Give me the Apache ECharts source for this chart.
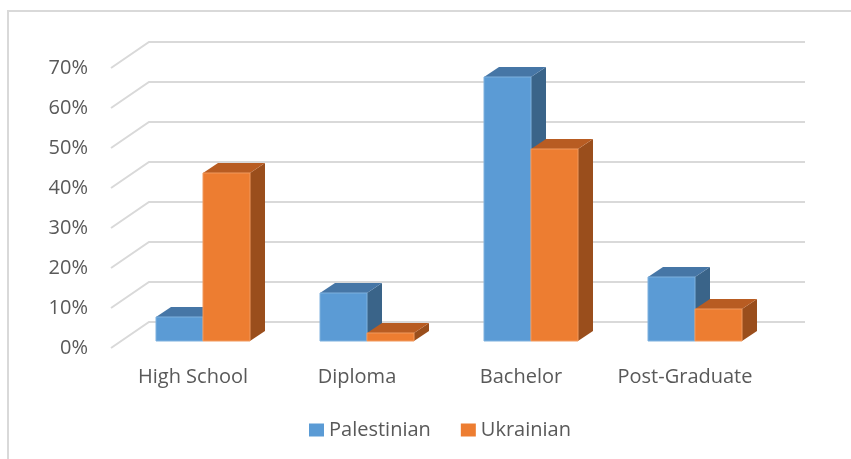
<!DOCTYPE html>
<html>
<head>
<meta charset="utf-8">
<script src="https://cdn.jsdelivr.net/npm/echarts@6/dist/echarts.min.js"></script>
<style>
  html, body { margin: 0; padding: 0; background: #fff; }
  #chart { width: 851px; height: 459px; }
  .frame { position: absolute; left: 7px; top: 10px; right: -2px; bottom: -2px; border: 2px solid #d9d9d9; pointer-events: none; }
</style>
</head>
<body>
<div id="chart"></div>
<div class="frame"></div>
<script>
const categories = ["High School", "Diploma", "Bachelor", "Post-Graduate"]
const palestinian = [6, 12, 66, 16]
const ukrainian = [42, 2, 48, 8]
const yTicks = [0, 10, 20, 30, 40, 50, 60, 70]

// 3d look: offsets in px
const WALL = [38, -26]   // front plane -> back wall
const PLANE = [10, -7]   // front plane -> bar front face
const DEPTH = [15, -10]  // bar depth
const BAR_W = 47
const FONT = "'Open Sans', sans-serif"

const chart = echarts.init(document.getElementById("chart"))

const gridItem = (params, api) => {
  const cs = params.coordSys
  const y = api.coord([0, api.value(0)])[1]
  const x0 = cs.x
  const x1 = cs.x + cs.width
  return {
    type: "polyline",
    shape: { points: [[x0, y], [x0 + WALL[0], y + WALL[1]], [x1 + WALL[0], y + WALL[1]]] },
    style: { stroke: "#d9d9d9", lineWidth: 2, fill: null }
  }
}

const barItem = (side, colors) => (params, api) => {
  const i = api.value(0)
  const top = api.coord([i, api.value(1)])
  const base = api.coord([i, 0])
  const cx = top[0] + PLANE[0]
  const x0 = side < 0 ? cx - BAR_W : cx
  const x1 = x0 + BAR_W
  const yt = top[1] + PLANE[1]
  const yb = base[1] + PLANE[1]
  const [dx, dy] = DEPTH
  return {
    type: "group",
    children: [
      { type: "polygon", shape: { points: [[x1, yt], [x1 + dx, yt + dy], [x1 + dx, yb + dy], [x1, yb]] }, style: { fill: colors[2] } },
      { type: "polygon", shape: { points: [[x0, yt], [x0 + dx, yt + dy], [x1 + dx, yt + dy], [x1, yt]] }, style: { fill: colors[1] } },
      { type: "rect", shape: { x: x0, y: yt, width: BAR_W, height: yb - yt }, style: { fill: colors[0], stroke: colors[3], lineWidth: 1 } }
    ]
  }
}

const blue = ["#5b9bd5", "#4676a6", "#3a6489", "#7fb1de"]
const orange = ["#ed7d31", "#b85c22", "#9a4e1c", "#f19a5e"]

chart.setOption({
  animation: false,
  textStyle: { fontFamily: FONT },
  grid: { left: 111, right: 84, top: 68, bottom: 111 },
  legend: {
    bottom: 14,
    left: 304,
    itemWidth: 15,
    itemHeight: 13,
    itemGap: 30,
    icon: "rect",
    textStyle: { color: "#595959", fontSize: 20, fontFamily: FONT },
    data: [
      { name: "Palestinian", itemStyle: { color: blue[0] } },
      { name: "Ukrainian", itemStyle: { color: orange[0] } }
    ]
  },
  xAxis: {
    type: "category",
    data: categories,
    axisLine: { show: false },
    axisTick: { show: false },
    axisLabel: { color: "#595959", fontSize: 20, margin: 19, interval: 0, hideOverlap: false, fontFamily: FONT }
  },
  yAxis: {
    type: "value",
    min: 0,
    max: 70,
    interval: 10,
    axisLine: { show: false },
    axisTick: { show: false },
    splitLine: { show: false },
    axisLabel: { color: "#595959", fontSize: 20, margin: 23, formatter: "{value}%", fontFamily: FONT }
  },
  series: [
    {
      type: "custom",
      name: "grid",
      silent: true,
      z: 1,
      renderItem: gridItem,
      data: yTicks.map(v => [v])
    },
    {
      type: "custom",
      name: "Palestinian",
      z: 2,
      itemStyle: { color: blue[0] },
      renderItem: barItem(-1, blue),
      encode: { x: 0, y: 1 },
      data: palestinian.map((v, i) => [i, v])
    },
    {
      type: "custom",
      name: "Ukrainian",
      z: 3,
      itemStyle: { color: orange[0] },
      renderItem: barItem(1, orange),
      encode: { x: 0, y: 1 },
      data: ukrainian.map((v, i) => [i, v])
    }
  ]
})
</script>
</body>
</html>
